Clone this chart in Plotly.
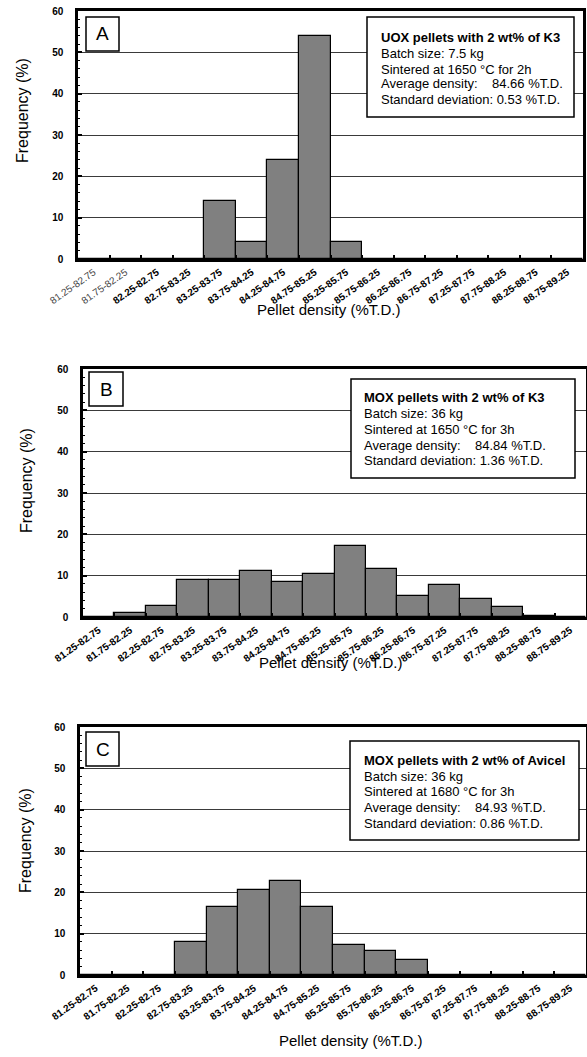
import plotly.graph_objects as go

W, H = 587, 1057

categories = ["81.25-82.75", "81.75-82.25", "82.25-82.75", "82.75-83.25",
              "83.25-83.75", "83.75-84.25", "84.25-84.75", "84.75-85.25",
              "85.25-85.75", "85.75-86.25", "86.25-86.75", "86.75-87.25",
              "87.25-87.75", "87.75-88.25", "88.25-88.75", "88.75-89.25"]

freq_a = [0, 0, 0, 0, 14, 4, 24, 54, 4, 0, 0, 0, 0, 0, 0, 0]
freq_b = [0, 0.9, 2.7, 9, 9, 11.1, 8.5, 10.5, 17.1, 11.6, 5.2, 7.8, 4.4, 2.3, 0.3, 0]
freq_c = [0, 0, 0, 7.9, 16.4, 20.6, 22.8, 16.4, 7.2, 5.7, 3.6, 0, 0, 0, 0, 0]

info_a = ["<b>UOX pellets with 2 wt% of K3</b>", "Batch size: 7.5 kg",
          "Sintered at 1650 \u00b0C for 2h",
          "Average density:\u00a0\u00a0\u00a0\u00a084.66 %T.D.",
          "Standard deviation: 0.53 %T.D."]
info_b = ["<b>MOX pellets with 2 wt% of K3</b>", "Batch size: 36 kg",
          "Sintered at 1650 \u00b0C for 3h",
          "Average density:\u00a0\u00a0\u00a0\u00a084.84 %T.D.",
          "Standard deviation: 1.36 %T.D."]
info_c = ["<b>MOX pellets with 2 wt% of Avicel</b>", "Batch size: 36 kg",
          "Sintered at 1680 \u00b0C for 3h",
          "Average density:\u00a0\u00a0\u00a0\u00a084.93 %T.D.",
          "Standard deviation: 0.86 %T.D."]

FONT = "Arial, Liberation Sans, Helvetica, sans-serif"


def xp(px):
    return px / W


def yp(py):
    return 1 - py / H


panels = [
    dict(letter="A", vals=freq_a, info=info_a,
         plot=(78, 11, 583, 259), letterbox=(86, 17, 119, 51),
         infobox=(367, 17, 574, 117), text_x=379,
         lines=[38, 53.3, 69, 84, 99.5],
         ytitle=(22, 111), xtitle=(328, 309)),
    dict(letter="B", vals=freq_b, info=info_b,
         plot=(83, 369, 586, 617), letterbox=(89, 372, 123, 406),
         infobox=(351, 379, 575, 478), text_x=362,
         lines=[397.7, 413.7, 429.3, 445.3, 460.3],
         ytitle=(27, 481), xtitle=(330, 662)),
    dict(letter="C", vals=freq_c, info=info_c,
         plot=(80, 727, 586, 975), letterbox=(86, 732, 119, 766),
         infobox=(350, 741, 579, 840), text_x=362,
         lines=[760, 776, 791.5, 807.3, 823.3],
         ytitle=(25, 841), xtitle=(350, 1040)),
]

fig = go.Figure()
shapes = []
annotations = []
layout = {}

for i, p in enumerate(panels):
    n = "" if i == 0 else str(i + 1)
    x0, y0, x1, y1 = p["plot"]
    fig.add_trace(go.Bar(
        x=categories, y=p["vals"], xaxis="x" + n, yaxis="y" + n,
        marker=dict(color="#808080", line=dict(color="black", width=1.2)),
        showlegend=False, hoverinfo="x+y"))
    ticktext = list(categories)
    if i == 0:
        for k in (0, 1):
            ticktext[k] = ('<span style="font-weight:normal;fill:#444444">'
                           + categories[k] + "</span>")
    layout["xaxis" + n] = dict(
        domain=[xp(x0), xp(x1)], anchor="y" + n, type="category", automargin=False,
        categoryorder="array", categoryarray=categories,
        tickmode="array", tickvals=categories, ticktext=ticktext,
        tickangle=-35, tickfont=dict(family=FONT, size=10, color="black", weight="bold"),
        ticklabelstandoff=1,
        ticks="inside", tickson="boundaries", ticklen=4, tickcolor="black", tickwidth=1.5,
        showline=True, linecolor="black", linewidth=2.5, mirror=True,
        showgrid=False, zeroline=False, fixedrange=True)
    layout["yaxis" + n] = dict(
        domain=[yp(y1), yp(y0)], anchor="x" + n, range=[0, 60], automargin=False,
        tickmode="linear", tick0=0, dtick=10,
        tickfont=dict(family=FONT, size=10, color="black", weight="bold"),
        ticks="inside", ticklen=4, tickcolor="black", tickwidth=1.5,
        ticklabelstandoff=10,
        minor=dict(dtick=2, ticks="inside", ticklen=2.5, tickcolor="black", tickwidth=1, showgrid=False),
        showline=True, linecolor="black", linewidth=2.5, mirror=True,
        showgrid=True, gridcolor="#3a3a3a", gridwidth=1,
        zeroline=False, fixedrange=True)

    # letter box
    lx0, ly0, lx1, ly1 = p["letterbox"]
    shapes.append(dict(type="rect", xref="paper", yref="paper",
                       x0=xp(lx0), x1=xp(lx1), y0=yp(ly1), y1=yp(ly0),
                       line=dict(color="black", width=1.5), fillcolor="white", layer="above"))
    annotations.append(dict(xref="paper", yref="paper", x=xp((lx0 + lx1) / 2), y=yp((ly0 + ly1) / 2),
                            text=p["letter"], showarrow=False, xanchor="center", yanchor="middle",
                            font=dict(family=FONT, size=19, color="black")))
    # info box
    bx0, by0, bx1, by1 = p["infobox"]
    shapes.append(dict(type="rect", xref="paper", yref="paper",
                       x0=xp(bx0), x1=xp(bx1), y0=yp(by1), y1=yp(by0),
                       line=dict(color="black", width=1.5), fillcolor="white", layer="above"))
    for txt, ly in zip(p["info"], p["lines"]):
        annotations.append(dict(xref="paper", yref="paper", x=xp(p["text_x"]), y=yp(ly),
                                text=txt, showarrow=False, xanchor="left", yanchor="middle",
                                font=dict(family=FONT, size=13, color="black")))
    # axis titles
    tx, ty = p["ytitle"]
    annotations.append(dict(xref="paper", yref="paper", x=xp(tx), y=yp(ty),
                            text="Frequency (%)", showarrow=False, textangle=-90,
                            xanchor="center", yanchor="middle",
                            font=dict(family=FONT, size=16, color="black")))
    tx, ty = p["xtitle"]
    annotations.append(dict(xref="paper", yref="paper", x=xp(tx), y=yp(ty),
                            text="Pellet density (%T.D.)", showarrow=False,
                            xanchor="center", yanchor="middle",
                            font=dict(family=FONT, size=15, color="black")))

fig.update_layout(
    width=W, height=H, margin=dict(l=0, r=0, t=0, b=0, autoexpand=False),
    paper_bgcolor="white", plot_bgcolor="white",
    bargap=0, shapes=shapes, annotations=annotations,
    font=dict(family=FONT, color="black"),
    **layout)

fig.write_html("out.html", config={"displayModeBar": False},
               post_script="document.body.style.margin='0';document.body.style.overflow='hidden';")
